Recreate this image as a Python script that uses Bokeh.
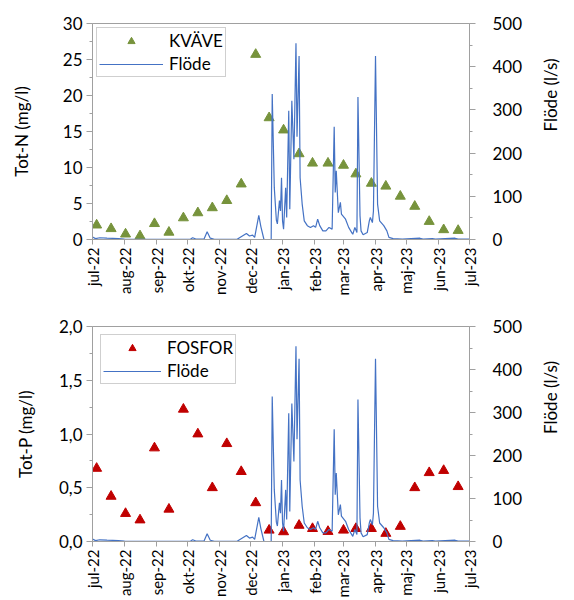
import pandas as pd
from bokeh.plotting import figure
from bokeh.models import (Range1d, LinearAxis, FixedTicker, CustomJSTickFormatter,
                          Legend, LegendItem)
from bokeh.layouts import column
from bokeh.embed import file_html
from bokeh.resources import INLINE

# ---------------- data ----------------
sample_dates = ["2022-07-05", "2022-07-19", "2022-08-02", "2022-08-16", "2022-08-30",
                "2022-09-13", "2022-09-27", "2022-10-11", "2022-10-25", "2022-11-08",
                "2022-11-22", "2022-12-06", "2022-12-19", "2023-01-02", "2023-01-17",
                "2023-01-30", "2023-02-14", "2023-03-01", "2023-03-13", "2023-03-28",
                "2023-04-11", "2023-04-25", "2023-05-09", "2023-05-23", "2023-06-06",
                "2023-06-20"]
kvave = [2.0, 1.5, 0.75, 0.5, 2.2, 1.0, 3.0, 3.7, 4.4, 5.4, 7.7, 25.7, 16.9, 15.2, 11.9,
         10.6, 10.6, 10.3, 9.1, 7.8, 7.4, 6.0, 4.6, 2.5, 1.35, 1.25]
fosfor = [0.68, 0.42, 0.26, 0.20, 0.87, 0.30, 1.23, 1.00, 0.50, 0.91, 0.65, 0.36, 0.105,
          0.09, 0.15, 0.12, 0.093, 0.105, 0.12, 0.12, 0.075, 0.14, 0.50, 0.64, 0.66, 0.51]

flow_start = "2022-07-01"
flow_day = [0, 3, 7, 14, 25, 31, 40, 60, 95, 97,
            100, 108, 111, 114, 118, 140, 149, 152, 155, 157,
            161, 163, 166, 173, 174, 176, 178, 179, 181, 182,
            183, 184, 185, 187, 188, 190, 191, 193, 195, 197,
            198, 200, 201, 203, 205, 208, 211, 214, 216, 218,
            220, 223, 226, 229, 232, 234, 235, 236, 238, 240,
            241, 245, 248, 251, 252, 254, 256, 257, 259, 260,
            262, 266, 268, 269, 271, 272, 274, 276, 278, 282,
            285, 287, 291, 300, 317, 320, 329, 332, 351, 354,
            365]
flow = [6, 2, 4, 3, 2, 1, 0.5, 0.5, 1, 4,
        1, 1, 18, 3, 0.5, 0.5, 14, 8, 10, 5,
        56, 30, 0, 0, 337, 120, 45, 36, 90, 66,
        143, 43, 24, 120, 51, 298, 70, 321, 186, 454,
        238, 425, 143, 82, 43, 32, 28, 32, 28, 47,
        32, 20, 20, 28, 24, 261, 109, 159, 62, 86,
        59, 47, 28, 16, 12, 28, 16, 330, 55, 20,
        11, 16, 43, 51, 39, 66, 425, 82, 43, 32,
        20, 5, 2, 1, 3, 1, 2, 1, 3, 1,
        1]

month_starts = ["2022-07-01", "2022-08-01", "2022-09-01", "2022-10-01", "2022-11-01",
                "2022-12-01", "2023-01-01", "2023-02-01", "2023-03-01", "2023-04-01",
                "2023-05-01", "2023-06-01", "2023-07-01"]
month_labels = ["jul-22", "aug-22", "sep-22", "okt-22", "nov-22", "dec-22", "jan-23",
                "feb-23", "mar-23", "apr-23", "maj-23", "jun-23", "jul-23"]

n_ticks = [0, 5, 10, 15, 20, 25, 30]
p_ticks = [0.0, 0.5, 1.0, 1.5, 2.0]
q_ticks = [0, 100, 200, 300, 400, 500]

# ---------------- helpers ----------------
FONT = "Lato"
FS = "17px"
AX = "#A0A0A0"

sx = pd.to_datetime(sample_dates)
fx = pd.Timestamp(flow_start) + pd.to_timedelta(flow_day, unit="D")
mx = [int(pd.Timestamp(m).value // 10**6) for m in month_starts]


def minor_of(ticks):
    step = ticks[1] - ticks[0]
    return [t + step / 2 for t in ticks[:-1]]


def style_axis(ax):
    ax.axis_line_color = AX
    ax.major_tick_line_color = AX
    ax.minor_tick_line_color = AX
    ax.major_tick_in = 0
    ax.minor_tick_in = 0
    ax.major_tick_out = 6
    ax.minor_tick_out = 3
    ax.major_label_text_font = FONT
    ax.major_label_text_font_size = FS
    ax.major_label_text_color = "black"
    ax.axis_label_text_font = FONT
    ax.axis_label_text_font_size = FS
    ax.axis_label_text_font_style = "normal"
    ax.axis_label_text_color = "black"


def make_panel(values, ticks, ylabel, ylab_standoff, color, name, comma,
               top, bottom, legend_margin, glyph_w):
    p = figure(width=574, height=300, x_axis_type="datetime",
               x_range=Range1d(pd.Timestamp(month_starts[0]), pd.Timestamp(month_starts[-1])),
               y_range=Range1d(ticks[0], ticks[-1]),
               output_backend="svg", toolbar_location=None,
               min_border_left=92, min_border_right=87, min_border_top=top,
               min_border_bottom=bottom)
    p.extra_y_ranges = {"flow": Range1d(q_ticks[0], q_ticks[-1])}
    p.xgrid.visible = False
    p.ygrid.visible = False
    p.outline_line_color = AX
    p.background_fill_color = "white"

    # x axis
    xa = p.xaxis[0]
    style_axis(xa)
    xa.ticker = FixedTicker(ticks=mx, minor_ticks=[])
    xa.formatter = CustomJSTickFormatter(args=dict(mtk=mx, mlab=month_labels),
                                         code="const i = mtk.indexOf(tick); return i >= 0 ? mlab[i] : '';")
    xa.major_label_orientation = 1.5708
    xa.major_label_text_font_size = "15px"
    xa.major_tick_out = 5
    xa.major_label_standoff = 3

    # left axis
    ya = p.yaxis[0]
    style_axis(ya)
    ya.ticker = FixedTicker(ticks=ticks, minor_ticks=minor_of(ticks))
    if comma:
        ya.formatter = CustomJSTickFormatter(code="return tick.toFixed(1).replace('.', ',');")
    ya.axis_label = ylabel
    ya.major_label_standoff = 4
    ya.axis_label_standoff = ylab_standoff

    # right axis
    ra = LinearAxis(y_range_name="flow", axis_label="Flöde (l/s)")
    style_axis(ra)
    ra.ticker = FixedTicker(ticks=q_ticks, minor_ticks=minor_of(q_ticks))
    ra.major_label_standoff = 17
    ra.axis_label_standoff = 25
    ra.axis_label_orientation = 1.5708
    p.add_layout(ra, "right")

    r_pts = p.scatter(sx, values, marker="triangle", size=10,
                      fill_color=color, line_color=color)
    r_line = p.line(fx, flow, y_range_name="flow", line_color="#4472C4", line_width=1.2)

    leg = Legend(items=[LegendItem(label=name, renderers=[r_pts]),
                        LegendItem(label="Flöde", renderers=[r_line])],
                 location="top_left", margin=legend_margin, padding=2, spacing=2,
                 label_height=18, glyph_height=18, glyph_width=glyph_w, label_standoff=6,
                 border_line_color=AX, background_fill_color="white", background_fill_alpha=1,
                 label_text_font=FONT, label_text_font_size=FS, label_text_color="black")
    p.add_layout(leg)
    return p


p1 = make_panel(kvave, n_ticks, "Tot-N (mg/l)", 28, "#77933C", "KVÄVE", False, 23, 61, 4, 64)
p2 = make_panel(fosfor, p_ticks, "Tot-P (mg/l)", 20, "#C00000", "FOSFOR", True, 26, 58, 8, 58)

layout = column(p1, p2, spacing=0)
open("out.html", "w").write(file_html(layout, INLINE))
